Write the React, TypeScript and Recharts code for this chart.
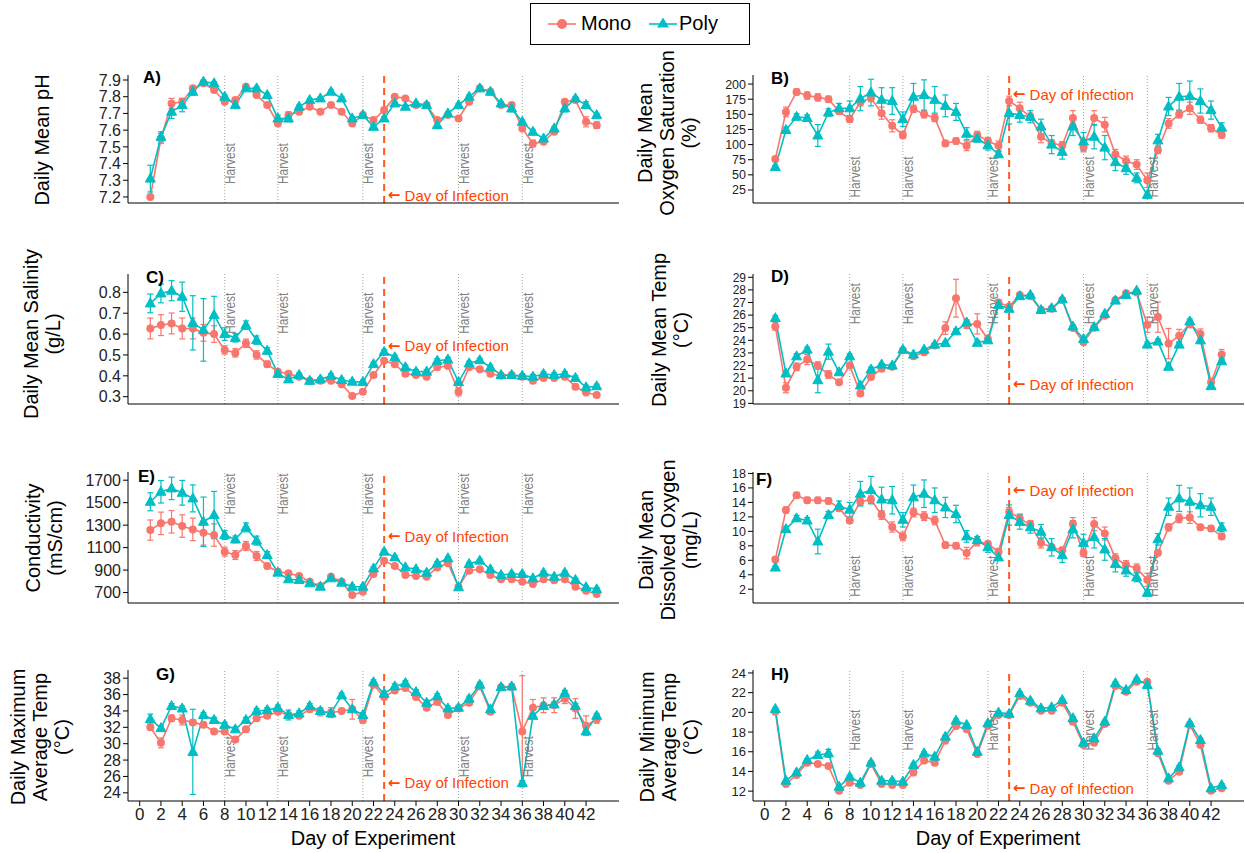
import {
  LineChart,
  Line,
  XAxis,
  YAxis,
  ErrorBar,
  ReferenceLine,
  ReferenceDot,
} from 'recharts';

const FONT = '"Liberation Sans", Arial, Helvetica, sans-serif';
const MONO = '#F8766D';
const POLY = '#00BFC4';
const INFECT = '#FF4500';

const days = [1, 2, 3, 4, 5, 6, 7, 8, 9, 10, 11, 12, 13, 14, 15, 16, 17, 18, 19, 20, 21, 22, 23, 24, 25, 26, 27, 28, 29, 30, 31, 32, 33, 34, 35, 36, 37, 38, 39, 40, 41, 42, 43];
const xTicks = [0, 2, 4, 6, 8, 10, 12, 14, 16, 18, 20, 22, 24, 26, 28, 30, 32, 34, 36, 38, 40, 42];
const harvestDays = [8, 13, 21, 30, 36];
const infectionDay = 23;

// A) pH
const phMono = [7.2, 7.55, 7.76, 7.77, 7.85, 7.88, 7.84, 7.77, 7.78, 7.86, 7.81, 7.75, 7.64, 7.69, 7.71, 7.74, 7.71, 7.75, 7.71, 7.64, 7.69, 7.66, 7.72, 7.8, 7.79, 7.75, 7.75, 7.66, 7.69, 7.67, 7.77, 7.85, 7.83, 7.75, 7.75, 7.61, 7.52, 7.53, 7.59, 7.77, 7.78, 7.65, 7.63];
const phPoly = [7.31, 7.56, 7.71, 7.75, 7.83, 7.89, 7.88, 7.8, 7.75, 7.85, 7.85, 7.81, 7.67, 7.67, 7.74, 7.78, 7.79, 7.83, 7.79, 7.67, 7.69, 7.62, 7.67, 7.76, 7.74, 7.76, 7.75, 7.63, 7.7, 7.75, 7.8, 7.85, 7.83, 7.76, 7.73, 7.65, 7.59, 7.55, 7.61, 7.73, 7.79, 7.75, 7.69];
const phMonoErr = [0.01, 0.03, 0.03, 0.02, 0.01, 0.01, 0.01, 0.01, 0.01, 0.01, 0.01, 0.01, 0.01, 0.02, 0.01, 0.01, 0.01, 0.01, 0.01, 0.01, 0.01, 0.01, 0.01, 0.01, 0.01, 0.01, 0.01, 0.01, 0.01, 0.01, 0.01, 0.01, 0.01, 0.01, 0.01, 0.01, 0.02, 0.01, 0.01, 0.01, 0.01, 0.03, 0.02];
const phPolyErr = [0.08, 0.03, 0.04, 0.04, 0.02, 0.01, 0.01, 0.01, 0.01, 0.01, 0.01, 0.01, 0.02, 0.02, 0.01, 0.01, 0.01, 0.01, 0.01, 0.01, 0.01, 0.01, 0.01, 0.01, 0.01, 0.01, 0.01, 0.02, 0.01, 0.01, 0.01, 0.01, 0.01, 0.01, 0.02, 0.01, 0.01, 0.01, 0.01, 0.02, 0.01, 0.02, 0.01];
const phTicks = [7.2, 7.3, 7.4, 7.5, 7.6, 7.7, 7.8, 7.9];

// B) oxygen saturation
const satMono = [76, 154, 187, 181, 178, 175, 155, 142, 170, 177, 152, 131, 116, 159, 150, 144, 102, 106, 98, 116, 106, 98, 172, 160, 146, 113, 102, 99, 144, 96, 144, 133, 84, 73, 67, 41, 91, 135, 150, 160, 141, 127, 116];
const satPoly = [63, 124, 146, 144, 115, 153, 160, 160, 176, 186, 174, 172, 142, 179, 182, 174, 164, 154, 118, 110, 99, 84, 152, 149, 146, 130, 100, 88, 130, 105, 113, 95, 71, 61, 45, 17, 107, 163, 179, 180, 172, 157, 128];
const satMonoErr = [4, 8, 5, 6, 6, 5, 5, 5, 6, 6, 10, 10, 6, 6, 6, 6, 5, 5, 8, 6, 6, 8, 8, 10, 6, 10, 6, 6, 12, 8, 12, 12, 8, 8, 8, 12, 6, 8, 6, 10, 6, 6, 5];
const satPolyErr = [3, 5, 5, 5, 18, 6, 8, 12, 20, 22, 20, 22, 12, 22, 25, 22, 18, 14, 10, 6, 8, 5, 18, 12, 10, 12, 15, 12, 15, 15, 20, 20, 14, 10, 8, 5, 10, 15, 22, 25, 20, 15, 8];
const satTicks = [25, 50, 75, 100, 125, 150, 175, 200];

// C) salinity
const salMono = [0.627, 0.643, 0.651, 0.627, 0.627, 0.606, 0.6, 0.524, 0.51, 0.556, 0.5, 0.456, 0.42, 0.41, 0.396, 0.376, 0.376, 0.376, 0.36, 0.303, 0.324, 0.404, 0.472, 0.456, 0.41, 0.404, 0.396, 0.441, 0.447, 0.324, 0.441, 0.431, 0.41, 0.4, 0.404, 0.396, 0.376, 0.39, 0.39, 0.396, 0.348, 0.32, 0.308];
const salPoly = [0.747, 0.795, 0.808, 0.779, 0.654, 0.62, 0.691, 0.6, 0.582, 0.643, 0.571, 0.52, 0.409, 0.383, 0.404, 0.376, 0.383, 0.4, 0.38, 0.372, 0.37, 0.456, 0.515, 0.489, 0.441, 0.42, 0.42, 0.472, 0.478, 0.37, 0.46, 0.475, 0.441, 0.404, 0.404, 0.4, 0.396, 0.409, 0.404, 0.41, 0.39, 0.345, 0.35];
const salMonoErr = [0.05, 0.05, 0.05, 0.05, 0.05, 0.04, 0.04, 0.02, 0.02, 0.02, 0.02, 0.015, 0.01, 0.01, 0.01, 0.01, 0.01, 0.01, 0.01, 0.01, 0.01, 0.01, 0.01, 0.01, 0.01, 0.01, 0.01, 0.01, 0.01, 0.02, 0.01, 0.01, 0.01, 0.01, 0.01, 0.01, 0.01, 0.01, 0.01, 0.01, 0.01, 0.01, 0.01];
const salPolyErr = [0.045, 0.045, 0.048, 0.07, 0.13, 0.15, 0.09, 0.03, 0.02, 0.02, 0.02, 0.015, 0.01, 0.01, 0.01, 0.01, 0.01, 0.01, 0.01, 0.01, 0.01, 0.01, 0.01, 0.01, 0.01, 0.01, 0.01, 0.01, 0.01, 0.01, 0.01, 0.01, 0.01, 0.01, 0.01, 0.01, 0.01, 0.01, 0.01, 0.01, 0.01, 0.01, 0.01];
const salTicks = [0.3, 0.4, 0.5, 0.6, 0.7, 0.8];

// D) mean temp
const tempMono = [25.1, 20.24, 21.9, 22.47, 22.0, 21.29, 20.68, 22.0, 19.79, 21.1, 21.74, 21.9, 23.21, 22.73, 23.05, 23.58, 24.97, 27.34, 25.24, 25.3, 24.1, 27.0, 26.68, 27.6, 27.5, 26.42, 26.5, 27.2, 24.97, 23.84, 25.0, 25.95, 27.2, 27.74, 27.8, 25.24, 25.84, 23.74, 24.37, 25.3, 24.5, 20.68, 22.87];
const tempPoly = [25.76, 21.37, 22.73, 23.26, 20.84, 23.1, 21.47, 22.73, 20.42, 21.68, 22.08, 22.0, 23.26, 22.87, 23.26, 23.66, 23.79, 24.71, 25.42, 23.8, 24.0, 26.8, 26.5, 27.5, 27.6, 26.4, 26.55, 27.25, 25.1, 24.1, 25.05, 26.1, 27.15, 27.6, 27.94, 23.66, 23.9, 21.9, 23.66, 25.5, 24.0, 20.37, 22.34];
const tempMonoErr = [0.3, 0.4, 0.3, 0.4, 0.3, 0.3, 0.2, 0.2, 0.2, 0.2, 0.2, 0.1, 0.1, 0.1, 0.1, 0.1, 0.5, 1.5, 0.3, 0.8, 0.3, 0.2, 0.1, 0.1, 0.1, 0.1, 0.1, 0.1, 0.1, 0.1, 0.1, 0.1, 0.1, 0.1, 0.1, 0.6, 1.2, 1.2, 0.5, 0.3, 0.4, 0.3, 0.4];
const tempPolyErr = [0.2, 0.2, 0.2, 0.2, 1.0, 0.6, 0.2, 0.2, 0.2, 0.2, 0.1, 0.1, 0.1, 0.1, 0.1, 0.1, 0.1, 0.2, 0.2, 0.2, 0.2, 0.2, 0.1, 0.1, 0.1, 0.1, 0.1, 0.1, 0.1, 0.1, 0.1, 0.1, 0.1, 0.1, 0.1, 0.2, 0.2, 0.2, 0.2, 0.2, 0.2, 0.2, 0.2];
const tempTicks = [19, 20, 21, 22, 23, 24, 25, 26, 27, 28, 29];

// E) conductivity
const condMono = [1256, 1316, 1330, 1292, 1262, 1232, 1212, 1064, 1034, 1114, 1025, 936, 886, 871, 847, 797, 758, 841, 797, 678, 707, 865, 984, 936, 856, 847, 841, 924, 960, 752, 895, 907, 856, 818, 818, 797, 776, 818, 809, 818, 752, 716, 687];
const condPoly = [1508, 1597, 1627, 1588, 1538, 1330, 1390, 1212, 1173, 1280, 1162, 1034, 877, 818, 812, 782, 752, 827, 788, 752, 752, 915, 1064, 1013, 924, 907, 877, 960, 1005, 747, 954, 984, 907, 856, 865, 865, 827, 877, 841, 877, 812, 747, 729];
const condMonoErr = [90, 100, 100, 100, 100, 110, 100, 40, 40, 40, 40, 25, 20, 15, 15, 15, 15, 15, 15, 15, 15, 15, 15, 15, 15, 15, 15, 15, 15, 15, 15, 15, 15, 15, 15, 15, 15, 15, 15, 15, 15, 15, 15];
const condPolyErr = [80, 100, 100, 110, 120, 220, 210, 40, 30, 40, 40, 30, 20, 15, 15, 15, 15, 15, 15, 15, 15, 15, 15, 15, 15, 15, 15, 15, 15, 15, 15, 15, 15, 15, 15, 15, 15, 15, 15, 15, 15, 15, 15];
const condTicks = [700, 900, 1100, 1300, 1500, 1700];

// F) dissolved oxygen
const doMono = [6.1, 12.95, 15.0, 14.3, 14.3, 14.2, 13.2, 11.5, 14.1, 14.4, 12.25, 10.6, 9.3, 12.6, 12.1, 11.5, 8.1, 8.0, 7.0, 8.6, 8.25, 7.2, 12.7, 11.8, 10.9, 8.4, 7.8, 7.4, 11.0, 7.0, 11.0, 9.7, 6.3, 5.35, 4.9, 3.3, 7.05, 10.55, 11.8, 11.9, 10.55, 10.4, 9.3];
const doPoly = [5.0, 10.3, 11.8, 11.5, 8.6, 12.25, 13.5, 13.0, 15.2, 15.7, 14.4, 14.3, 11.6, 14.7, 15.2, 14.3, 13.3, 12.4, 9.3, 8.8, 7.8, 6.4, 12.25, 11.3, 10.55, 9.95, 7.8, 6.7, 10.3, 8.4, 9.2, 7.5, 5.5, 4.6, 3.65, 1.5, 8.9, 13.4, 14.55, 14.1, 13.6, 13.4, 10.55];
const doMonoErr = [0.3, 0.4, 0.4, 0.4, 0.4, 0.4, 0.4, 0.4, 0.5, 0.5, 0.6, 0.7, 0.6, 0.6, 0.6, 0.6, 0.4, 0.4, 0.8, 0.6, 0.4, 0.4, 0.6, 0.6, 0.6, 0.7, 0.4, 0.4, 0.9, 0.5, 0.9, 0.9, 0.6, 0.6, 0.6, 0.9, 0.4, 0.5, 0.6, 0.8, 0.4, 0.4, 0.4];
const doPolyErr = [0.2, 0.4, 0.4, 0.4, 1.7, 0.5, 0.7, 1.0, 1.7, 1.9, 1.7, 1.9, 1.0, 1.7, 1.9, 1.7, 1.4, 1.2, 0.8, 0.5, 0.7, 0.4, 1.4, 1.0, 0.8, 1.0, 1.2, 1.0, 1.2, 1.2, 1.5, 1.5, 1.1, 0.8, 0.6, 0.4, 0.8, 1.2, 1.8, 1.9, 1.6, 1.2, 0.6];
const doTicks = [2, 4, 6, 8, 10, 12, 14, 16, 18];

// G) daily maximum temp
const maxMono = [32.0, 30.1, 33.1, 32.9, 32.6, 32.3, 31.5, 31.5, 30.5, 31.75, 33.1, 33.4, 33.9, 33.5, 33.4, 34.2, 33.9, 33.8, 34.0, 34.2, 32.9, 37.2, 35.7, 36.5, 36.8, 35.7, 34.4, 35.1, 33.5, 34.3, 35.0, 37.0, 33.9, 36.9, 36.9, 31.5, 34.4, 34.7, 34.7, 35.5, 34.3, 32.2, 33.0];
const maxPoly = [33.0, 31.9, 34.6, 34.3, 29.0, 33.5, 32.9, 32.3, 31.75, 32.9, 34.0, 34.1, 34.4, 33.5, 33.7, 34.6, 34.0, 33.7, 35.9, 34.2, 33.5, 37.5, 36.1, 37.0, 37.4, 36.3, 35.0, 35.8, 34.3, 34.4, 35.5, 37.2, 34.2, 36.9, 37.0, 25.2, 33.4, 34.6, 34.8, 36.2, 34.6, 31.5, 33.4];
const maxMonoErr = [0.3, 0.6, 0.4, 0.6, 0.3, 0.3, 0.3, 0.3, 0.3, 0.3, 0.3, 0.3, 0.3, 0.3, 0.3, 0.3, 0.5, 0.6, 0.3, 1.2, 0.4, 0.3, 0.3, 0.3, 0.3, 0.3, 0.3, 0.3, 0.3, 0.3, 0.3, 0.3, 0.3, 0.3, 0.3, 6.8, 1.0, 0.9, 0.9, 0.6, 1.2, 1.2, 0.5];
const maxPolyErr = [0.6, 0.3, 0.3, 0.3, 5.2, 0.3, 0.3, 0.3, 0.3, 0.3, 0.3, 0.3, 0.3, 0.6, 0.3, 0.3, 0.3, 0.3, 0.3, 0.3, 0.3, 0.3, 0.3, 0.3, 0.3, 0.3, 0.3, 0.3, 0.3, 0.3, 0.3, 0.3, 0.3, 0.3, 0.3, 0.3, 0.3, 0.3, 0.3, 0.3, 0.3, 0.3, 0.3];
const maxTicks = [24, 26, 28, 30, 32, 34, 36, 38];

// H) daily minimum temp
const minMono = [20.07, 12.73, 13.64, 14.89, 14.76, 14.55, 12.05, 12.86, 12.62, 14.76, 12.73, 12.62, 12.62, 13.9, 15.1, 14.89, 17.12, 18.61, 18.28, 15.77, 18.61, 19.73, 19.73, 21.66, 20.98, 20.17, 20.17, 20.98, 19.05, 16.69, 16.92, 18.82, 22.68, 22.1, 23.11, 23.11, 15.84, 13.06, 13.98, 18.72, 16.69, 12.05, 12.29];
const minPoly = [20.34, 13.06, 13.9, 15.16, 15.67, 15.84, 12.45, 13.47, 12.86, 14.89, 13.06, 13.06, 12.96, 14.66, 15.84, 15.5, 17.53, 19.16, 18.72, 16.0, 18.89, 19.97, 19.85, 21.93, 21.18, 20.41, 20.51, 21.25, 19.4, 16.92, 17.36, 19.05, 22.95, 22.27, 23.35, 22.78, 16.11, 13.3, 14.42, 18.89, 17.19, 12.29, 12.62];
const minMonoErr = [0.15, 0.15, 0.15, 0.15, 0.15, 0.15, 0.15, 0.15, 0.15, 0.15, 0.15, 0.15, 0.15, 0.15, 0.15, 0.15, 0.15, 0.15, 0.15, 0.15, 0.15, 0.15, 0.15, 0.15, 0.15, 0.15, 0.15, 0.15, 0.15, 0.15, 0.15, 0.15, 0.15, 0.15, 0.15, 0.2, 0.15, 0.15, 0.15, 0.15, 0.2, 0.15, 0.15];
const minPolyErr = [0.15, 0.15, 0.15, 0.15, 0.3, 0.4, 0.15, 0.15, 0.15, 0.15, 0.15, 0.15, 0.15, 0.15, 0.15, 0.15, 0.15, 0.15, 0.15, 0.15, 0.15, 0.15, 0.15, 0.15, 0.15, 0.15, 0.15, 0.15, 0.15, 0.15, 0.15, 0.15, 0.15, 0.15, 0.15, 0.2, 0.15, 0.15, 0.15, 0.15, 0.2, 0.15, 0.15];
const minTicks = [12, 14, 16, 18, 20, 22, 24];

const PLOT_W = 491;
const one = (v: number) => v.toFixed(1);
const plain = (v: number) => String(v);

const panels = [
  { id: 'A', left: 128, top: 75, height: 128, mono: phMono, poly: phPoly, monoErr: phMonoErr, polyErr: phPolyErr, domain: [7.164, 7.93], ticks: phTicks, fmt: one, tickFont: 16, harvestY: 7.4, infectY: 7.21, bottom: false },
  { id: 'B', left: 753, top: 75, height: 128, mono: satMono, poly: satPoly, monoErr: satMonoErr, polyErr: satPolyErr, domain: [3.5, 215], ticks: satTicks, fmt: plain, tickFont: 12.5, harvestY: 46.5, infectY: 183.5, bottom: false },
  { id: 'C', left: 128, top: 274, height: 130, mono: salMono, poly: salPoly, monoErr: salMonoErr, polyErr: salPolyErr, domain: [0.265, 0.888], ticks: salTicks, fmt: one, tickFont: 16, harvestY: 0.7, infectY: 0.543, bottom: false },
  { id: 'D', left: 753, top: 274, height: 130, mono: tempMono, poly: tempPoly, monoErr: tempMonoErr, polyErr: tempPolyErr, domain: [18.95, 29.26], ticks: tempTicks, fmt: plain, tickFont: 12, harvestY: 26.9, infectY: 20.5, bottom: false },
  { id: 'E', left: 128, top: 472, height: 131, mono: condMono, poly: condPoly, monoErr: condMonoErr, polyErr: condPolyErr, domain: [607, 1773], ticks: condTicks, fmt: plain, tickFont: 16, harvestY: 1577, infectY: 1203, bottom: false },
  { id: 'F', left: 753, top: 472, height: 131, mono: doMono, poly: doPoly, monoErr: doMonoErr, polyErr: doPolyErr, domain: [0.1, 18.2], ticks: doTicks, fmt: plain, tickFont: 12.5, harvestY: 3.8, infectY: 15.7, bottom: false },
  { id: 'G', left: 128, top: 670, height: 131, mono: maxMono, poly: maxPoly, monoErr: maxMonoErr, polyErr: maxPolyErr, domain: [23.0, 39.0], ticks: maxTicks, fmt: plain, tickFont: 16, harvestY: 28.4, infectY: 25.2, bottom: true },
  { id: 'H', left: 753, top: 670, height: 131, mono: minMono, poly: minPoly, monoErr: minMonoErr, polyErr: minPolyErr, domain: [11.0, 24.3], ticks: minTicks, fmt: plain, tickFont: 13, harvestY: 18.2, infectY: 12.3, bottom: true },
];

const letters = [
  { text: 'A)', x: 143, y: 78 },
  { text: 'B)', x: 771, y: 79 },
  { text: 'C)', x: 146, y: 278 },
  { text: 'D)', x: 771, y: 277 },
  { text: 'E)', x: 138, y: 477 },
  { text: 'F)', x: 756, y: 480 },
  { text: 'G)', x: 156, y: 675 },
  { text: 'H)', x: 771, y: 675 },
];

const titles = [
  { lines: ['Daily Mean pH'], x: 42, y: 140 },
  { lines: ['Daily Mean', 'Oxygen Saturation', '(%)'], x: 667, y: 133 },
  { lines: ['Daily Mean Salinity', '(g/L)'], x: 42, y: 334 },
  { lines: ['Daily Mean Temp', '(°C)'], x: 670, y: 330 },
  { lines: ['Conductivity', '(mS/cm)'], x: 44, y: 538 },
  { lines: ['Daily Mean', 'Dissolved Oxygen', '(mg/L)'], x: 668, y: 540 },
  { lines: ['Daily Maximum', 'Average Temp', '(°C)'], x: 40, y: 737 },
  { lines: ['Daily Minimum', 'Average Temp', '(°C)'], x: 669, y: 737 },
];

const triangle = (props: any) => {
  const { cx, cy, index } = props;
  if (cx == null || cy == null) return <g key={`t${index}`} />;
  return (
    <path
      key={`t${index}`}
      d={`M${cx},${cy - 5.5}L${cx + 5},${cy + 3.5}L${cx - 5},${cy + 3.5}Z`}
      fill={POLY}
      stroke={POLY}
    />
  );
};

const harvestText = (p: any) => (
  <text
    x={p.cx}
    y={p.cy}
    transform={`rotate(-90 ${p.cx} ${p.cy})`}
    textAnchor="middle"
    dominantBaseline="central"
    fontSize={14}
    textLength={41}
    lengthAdjust="spacingAndGlyphs"
    fontFamily={FONT}
    fill="#808080"
  >
    Harvest
  </text>
);

const infectText = (p: any) => (
  <text x={p.cx} y={p.cy} dominantBaseline="central" fontSize={15} fontFamily={FONT} fill={INFECT}>
    <tspan fontWeight="bold" fontFamily="DejaVu Sans">←</tspan> Day of Infection
  </text>
);

function Panel({ cfg }: { cfg: any }) {
  const data = days.map((d, i) => ({
    day: d,
    mono: cfg.mono[i],
    poly: cfg.poly[i],
    monoErr: cfg.monoErr[i],
    polyErr: cfg.polyErr[i],
  }));
  const yw = 50;
  const mt = 10;
  const mr = 4;
  const xh = cfg.bottom ? 30 : 6;
  return (
    <div style={{ position: 'absolute', left: cfg.left - yw, top: cfg.top - mt }}>
      <LineChart
        width={yw + PLOT_W + mr}
        height={mt + cfg.height + xh}
        data={data}
        margin={{ top: mt, right: mr, left: 0, bottom: 0 }}
        style={{ overflow: 'visible' }}
      >
        <XAxis
          type="number"
          dataKey="day"
          domain={[-1.1, 45.1]}
          ticks={xTicks}
          interval={0}
          allowDataOverflow
          height={xh}
          stroke="#000"
          tickSize={5}
          tick={cfg.bottom ? { fill: '#222', fontSize: 17, fontFamily: FONT } : false}
        />
        <YAxis
          type="number"
          domain={cfg.domain}
          ticks={cfg.ticks}
          interval={0}
          allowDataOverflow
          width={yw}
          stroke="#000"
          tickSize={5}
          tickFormatter={cfg.fmt}
          tick={{ fill: '#222', fontSize: cfg.tickFont, fontFamily: FONT }}
        />
        {harvestDays.map((h) => (
          <ReferenceLine key={`h${h}`} x={h} stroke="#a0a0a0" strokeDasharray="1 2" strokeWidth={1} />
        ))}
        <ReferenceLine x={infectionDay} stroke="#FF5A1F" strokeDasharray="7 5" strokeWidth={2} />
        {harvestDays.map((h) => (
          <ReferenceDot key={`ht${h}`} x={h + 0.5} y={cfg.harvestY} r={0} shape={harvestText} />
        ))}
        <ReferenceDot x={infectionDay + 0.35} y={cfg.infectY} r={0} shape={infectText} />
        <Line
          dataKey="mono"
          stroke={MONO}
          strokeWidth={1.6}
          dot={{ r: 4, fill: MONO, stroke: MONO, strokeWidth: 0 }}
          activeDot={false}
          isAnimationActive={false}
        >
          <ErrorBar dataKey="monoErr" width={3} stroke={MONO} strokeWidth={1.2} direction="y" />
        </Line>
        <Line
          dataKey="poly"
          stroke={POLY}
          strokeWidth={1.6}
          dot={triangle}
          activeDot={false}
          isAnimationActive={false}
        >
          <ErrorBar dataKey="polyErr" width={3} stroke={POLY} strokeWidth={1.2} direction="y" />
        </Line>
      </LineChart>
    </div>
  );
}

function Legend() {
  return (
    <div
      style={{
        position: 'absolute',
        left: 530,
        top: 3,
        width: 220,
        height: 42,
        border: '1px solid #000',
        boxSizing: 'border-box',
        fontFamily: FONT,
        fontSize: 20,
        color: '#000',
      }}
    >
      <svg width={30} height={20} style={{ position: 'absolute', left: 16, top: 10 }}>
        <line x1={1} y1={10} x2={29} y2={10} stroke={MONO} strokeWidth={1.6} />
        <circle cx={15} cy={10} r={5} fill={MONO} />
      </svg>
      <span style={{ position: 'absolute', left: 50, top: 8 }}>Mono</span>
      <svg width={30} height={20} style={{ position: 'absolute', left: 117, top: 10 }}>
        <line x1={1} y1={10} x2={29} y2={10} stroke={POLY} strokeWidth={1.6} />
        <path d="M15,3.5L21,13.5L9,13.5Z" fill={POLY} />
      </svg>
      <span style={{ position: 'absolute', left: 148, top: 8 }}>Poly</span>
    </div>
  );
}

export default function App() {
  return (
    <div
      style={{
        position: 'absolute',
        left: 0,
        top: 0,
        width: 1245,
        height: 853,
        background: '#fff',
        fontFamily: FONT,
        overflow: 'hidden',
      }}
    >
      <Legend />
      {panels.map((p) => (
        <Panel key={p.id} cfg={p} />
      ))}
      {letters.map((l) => (
        <div
          key={l.text}
          style={{
            position: 'absolute',
            left: l.x,
            top: l.y,
            transform: 'translateY(-50%)',
            fontWeight: 'bold',
            fontSize: 17,
            lineHeight: '18px',
            color: '#000',
          }}
        >
          {l.text}
        </div>
      ))}
      {titles.map((t) => (
        <div
          key={t.lines.join('-')}
          style={{
            position: 'absolute',
            left: t.x,
            top: t.y,
            transform: 'translate(-50%, -50%) rotate(-90deg)',
            whiteSpace: 'nowrap',
            textAlign: 'center',
            fontSize: 20,
            lineHeight: '22px',
            color: '#000',
          }}
        >
          {t.lines.map((line) => (
            <div key={line}>{line}</div>
          ))}
        </div>
      ))}
      {[373, 998].map((x) => (
        <div
          key={`xl${x}`}
          style={{
            position: 'absolute',
            left: x,
            top: 838,
            transform: 'translate(-50%, -50%)',
            whiteSpace: 'nowrap',
            fontSize: 20,
            color: '#000',
          }}
        >
          Day of Experiment
        </div>
      ))}
    </div>
  );
}
